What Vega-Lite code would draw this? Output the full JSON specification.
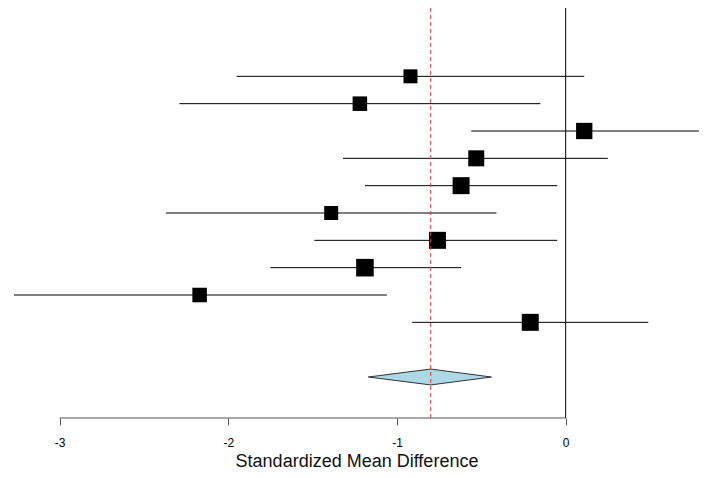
{
  "$schema": "https://vega.github.io/schema/vega-lite/v6.json",
  "width": 695,
  "height": 410,
  "autosize": "none",
  "padding": {"left": 9, "top": 8, "right": 5, "bottom": 60},
  "background": "white",
  "config": {
    "view": {"stroke": null},
    "font": "Liberation Sans",
    "axisX": {
      "domain": false,
      "grid": false,
      "tickColor": "#555555",
      "tickSize": 7,
      "tickWidth": 1,
      "labelColor": "#000000",
      "labelFontSize": 12,
      "labelPadding": 12,
      "labelFont": "Liberation Sans",
      "titleFont": "Liberation Sans",
      "titleFontSize": 18,
      "titleFontWeight": "normal",
      "titleColor": "#111111",
      "titlePadding": 4
    }
  },
  "datasets": {
    "studies": [
      {"row": 1, "est": -0.92, "lo": -1.95, "hi": 0.11, "weight": 7.8},
      {"row": 2, "est": -1.22, "lo": -2.29, "hi": -0.15, "weight": 8.4},
      {"row": 3, "est": 0.11, "lo": -0.56, "hi": 0.79, "weight": 10.6},
      {"row": 4, "est": -0.53, "lo": -1.32, "hi": 0.25, "weight": 10.2},
      {"row": 5, "est": -0.62, "lo": -1.19, "hi": -0.05, "weight": 11.5},
      {"row": 6, "est": -1.39, "lo": -2.37, "hi": -0.41, "weight": 7.8},
      {"row": 7, "est": -0.76, "lo": -1.49, "hi": -0.05, "weight": 11.5},
      {"row": 8, "est": -1.19, "lo": -1.75, "hi": -0.62, "weight": 12.3},
      {"row": 9, "est": -2.17, "lo": -3.27, "hi": -1.06, "weight": 8.4},
      {"row": 10, "est": -0.21, "lo": -0.91, "hi": 0.49, "weight": 11.5}
    ],
    "summary": [{"row": 12, "est": -0.80, "lo": -1.17, "hi": -0.44}],
    "diamond": [
      {"x": -1.17, "y": 12, "y2": 12},
      {"x": -0.80, "y": 11.71, "y2": 12.29},
      {"x": -0.44, "y": 12, "y2": 12}
    ],
    "axisline": [{"from": -3, "to": 0, "y": 13.5}]
  },
  "layer": [
    {
      "data": {"name": "axisline"},
      "mark": {"type": "rule", "color": "#555555", "strokeWidth": 1},
      "encoding": {
        "x": {"field": "from", "type": "quantitative", "title": "Standardized Mean Difference",
              "axis": {"values": [-3, -2, -1, 0], "labelExpr": "toString(datum.value)"},
              "scale": {"domain": [-3.3, 0.82], "nice": false, "zero": false}},
        "x2": {"field": "to"},
        "y": {"field": "y", "type": "quantitative", "axis": null,
              "scale": {"domain": [-1.5, 13.5], "reverse": true, "nice": false, "zero": false}}
      }
    },
    {
      "data": {"values": [{"ref": 0}]},
      "mark": {"type": "rule", "color": "#000000", "strokeWidth": 1},
      "encoding": {
        "x": {"field": "ref", "type": "quantitative", "title": "Standardized Mean Difference",
              "axis": {"values": [-3, -2, -1, 0], "labelExpr": "toString(datum.value)"}}
      }
    },
    {
      "data": {"name": "studies"},
      "mark": {"type": "rule", "color": "#000000", "strokeWidth": 1},
      "encoding": {
        "x": {"field": "lo", "type": "quantitative", "title": "Standardized Mean Difference",
              "axis": {"values": [-3, -2, -1, 0], "labelExpr": "toString(datum.value)"}},
        "x2": {"field": "hi"},
        "y": {"field": "row", "type": "quantitative", "axis": null}
      }
    },
    {
      "data": {"name": "studies"},
      "mark": {"type": "point", "shape": "square", "filled": true, "color": "#000000", "opacity": 1},
      "encoding": {
        "x": {"field": "est", "type": "quantitative", "title": "Standardized Mean Difference",
              "axis": {"values": [-3, -2, -1, 0], "labelExpr": "toString(datum.value)"}},
        "y": {"field": "row", "type": "quantitative", "axis": null},
        "size": {"field": "weight", "type": "quantitative", "legend": null,
                 "scale": {"domain": [0, 10], "range": [0, 251]}}
      }
    },
    {
      "data": {"name": "diamond"},
      "mark": {"type": "area", "color": "#add8e6", "stroke": "#333333", "strokeWidth": 1, "opacity": 1},
      "encoding": {
        "x": {"field": "x", "type": "quantitative", "title": "Standardized Mean Difference",
              "axis": {"values": [-3, -2, -1, 0], "labelExpr": "toString(datum.value)"}},
        "y": {"field": "y", "type": "quantitative", "axis": null},
        "y2": {"field": "y2"}
      }
    },
    {
      "data": {"name": "summary"},
      "mark": {"type": "rule", "color": "#e0393e", "strokeWidth": 1, "strokeDash": [4, 3]},
      "encoding": {
        "x": {"field": "est", "type": "quantitative", "title": "Standardized Mean Difference",
              "axis": {"values": [-3, -2, -1, 0], "labelExpr": "toString(datum.value)"}}
      }
    }
  ]
}
